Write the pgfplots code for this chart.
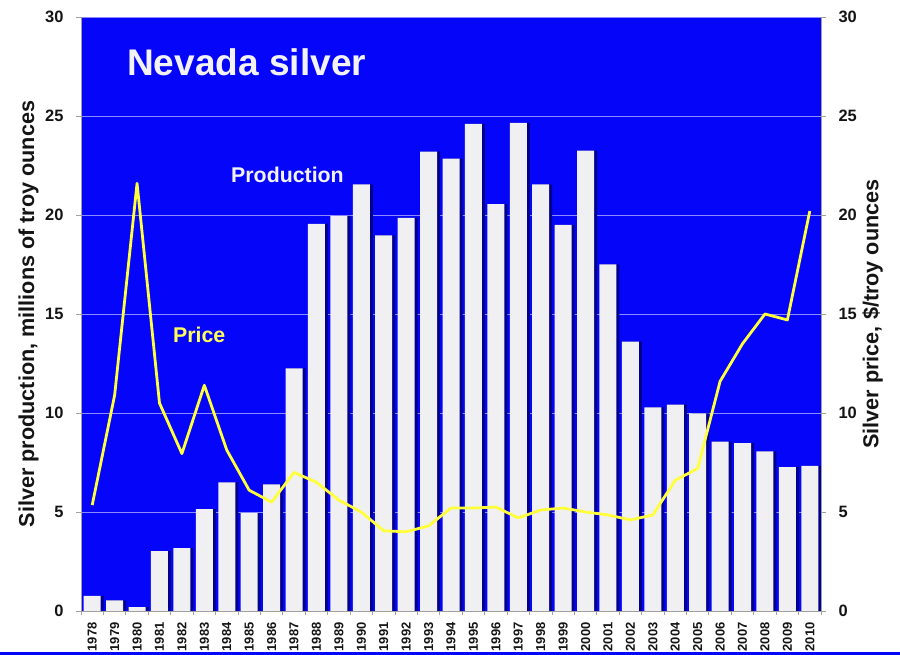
\documentclass[border=0pt]{standalone}
\usepackage{fontspec}
\setmainfont{Liberation Sans}
\usepackage{pgfplots}
\pgfplotsset{compat=1.18}
\definecolor{bgblue}{RGB}{5,5,250}
\definecolor{shadowcol}{RGB}{0,0,140}
\definecolor{barcol}{RGB}{240,240,243}
\definecolor{gridcol}{RGB}{140,140,255}
\definecolor{lineyellow}{RGB}{255,255,60}
\definecolor{axisgrey}{RGB}{160,160,160}
\definecolor{labelcol}{RGB}{20,20,20}

\pgfplotsset{
  common/.style={
    at={(81bp,44bp)}, anchor=south west,
    scale only axis, width=740bp, height=594bp,
    xmin=-0.5, xmax=32.5, ymin=0, ymax=30,
    ytick={0,5,...,30},
    tick align=outside,
    major tick length=5bp,
    minor tick length=4bp,
    every tick/.style={axisgrey, line width=0.8bp},
    axis line style={axisgrey, line width=0.8bp},
    /pgf/number format/assume math mode=true,
    yticklabel style={font=\fontsize{16.5}{18}\selectfont\bfseries, text=labelcol},
  },
}

\begin{document}
\begin{tikzpicture}[x=1bp,y=1bp]
\useasboundingbox (0,0) rectangle (900,655);
\fill[bgblue] (0,0) rectangle (900,3);
\begin{axis}[
  common,
  axis y line*=left,
  axis x line*=bottom,
  axis background/.style={fill=bgblue},
  ymajorgrids,
  grid style={gridcol, line width=0.8bp},
  xtick={0,1,...,32},
  xticklabels={1978,1979,1980,1981,1982,1983,1984,1985,1986,1987,1988,1989,1990,1991,1992,1993,1994,1995,1996,1997,1998,1999,2000,2001,2002,2003,2004,2005,2006,2007,2008,2009,2010},
  major x tick style={draw=none},
  minor xtick={-0.5,0.5,...,32.5},
  xticklabel style={yshift=-3bp, rotate=90, anchor=east, font=\fontsize{13}{15}\selectfont\bfseries, text=labelcol},
  yticklabel style={anchor=east, xshift=-9bp},
  every axis y label/.style={at={(rel axis cs:0,0.5)}, xshift=-52.5bp, rotate=90, anchor=center, font=\fontsize{21.7}{24}\selectfont\bfseries, text=labelcol},
  ylabel={Silver production, millions of troy ounces},
  clip=false,
]
\addplot[ybar, bar width=17bp, bar shift=3bp, fill=shadowcol, draw=none] coordinates {
(0,0.76) (1,0.54) (2,0.19) (3,3.03) (4,3.17) (5,5.14) (6,6.49) (7,4.94) (8,6.4) (9,12.25)
(10,19.55) (11,19.95) (12,21.55) (13,18.97) (14,19.85) (15,23.2) (16,22.85) (17,24.6) (18,20.55) (19,24.65)
(20,21.55) (21,19.5) (22,23.25) (23,17.5) (24,13.6) (25,10.28) (26,10.42) (27,9.98) (28,8.56) (29,8.48)
(30,8.06) (31,7.27) (32,7.33)
};
\addplot[ybar, bar width=17bp, bar shift=0bp, fill=barcol, draw=none] coordinates {
(0,0.76) (1,0.54) (2,0.19) (3,3.03) (4,3.17) (5,5.14) (6,6.49) (7,4.94) (8,6.4) (9,12.25)
(10,19.55) (11,19.95) (12,21.55) (13,18.97) (14,19.85) (15,23.2) (16,22.85) (17,24.6) (18,20.55) (19,24.65)
(20,21.55) (21,19.5) (22,23.25) (23,17.5) (24,13.6) (25,10.28) (26,10.42) (27,9.98) (28,8.56) (29,8.48)
(30,8.06) (31,7.27) (32,7.33)
};
\node[anchor=base west, inner sep=0pt, text={rgb,255:red,242;green,242;blue,248}, font=\fontsize{37.2}{40}\selectfont\bfseries] at (axis cs:1.55,27.07) {Nevada silver};
\node[anchor=base west, inner sep=0pt, text={rgb,255:red,242;green,242;blue,248}, font=\fontsize{21.4}{24}\selectfont\bfseries] at (axis cs:6.19,21.62) {Production};
\end{axis}
\begin{axis}[
  common,
  axis y line*=right,
  axis x line=none,
  yticklabel style={anchor=west, xshift=9bp},
  every axis y label/.style={at={(rel axis cs:1,0.5)}, xshift=51.5bp, rotate=90, anchor=center, font=\fontsize{21.7}{24}\selectfont\bfseries, text=labelcol},
  ylabel={Silver price, \$/troy ounces},
  clip=false,
]
\addplot[lineyellow, line width=2.8bp, line join=round] coordinates {
(0,5.35) (1,10.9) (2,21.6) (3,10.5) (4,7.95) (5,11.4) (6,8.13) (7,6.1) (8,5.5) (9,7.0)
(10,6.5) (11,5.6) (12,5.0) (13,4.05) (14,4.0) (15,4.3) (16,5.2) (17,5.2) (18,5.25) (19,4.7)
(20,5.1) (21,5.2) (22,5.0) (23,4.85) (24,4.6) (25,4.85) (26,6.6) (27,7.2) (28,11.6) (29,13.5)
(30,15.0) (31,14.7) (32,20.2)
};
\node[anchor=base west, inner sep=0pt, text={rgb,255:red,255;green,255;blue,90}, font=\fontsize{21.4}{24}\selectfont\bfseries] at (axis cs:3.60,13.55) {Price};
\end{axis}
\end{tikzpicture}
\end{document}
